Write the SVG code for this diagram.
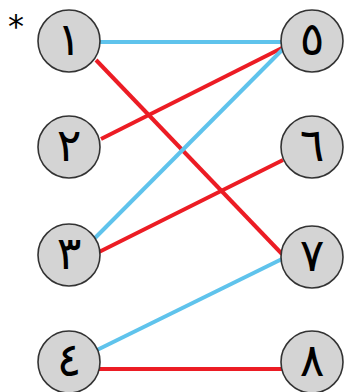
<svg xmlns="http://www.w3.org/2000/svg" width="344" height="392" viewBox="0 0 344 392">
<style>
.node circle{fill:#d4d4d4;stroke:#333;stroke-width:1.6}
.node text{font-family:"DejaVu Sans",sans-serif;font-size:46px;fill:#000;text-anchor:middle;dominant-baseline:central}
.blue{stroke:#5fc3ec;stroke-width:4;fill:none}
.red{stroke:#ec1c24;stroke-width:4;fill:none}
.star{font-family:"DejaVu Sans",sans-serif;font-size:32px;fill:#000}
</style>
<rect width="344" height="392" fill="#fff"/>
<g id="connectors">
<line class="blue" x1="99" y1="42" x2="282" y2="42"/>
<line class="red" x1="96" y1="60" x2="282" y2="254"/>
<line class="red" x1="101" y1="139" x2="282" y2="48"/>
<line class="blue" x1="95" y1="238" x2="283" y2="49"/>
<line class="red" x1="99" y1="252" x2="283" y2="160"/>
<line class="blue" x1="97" y1="350" x2="282" y2="259"/>
<line class="red" x1="99" y1="369" x2="282" y2="369"/>
</g>
<text class="star" x="8" y="37">*</text>
<g id="n1" class="node"><circle cx="69" cy="41" r="31"/><text x="69" y="39">١</text></g>
<g id="n2" class="node"><circle cx="69" cy="147" r="31"/><text x="69" y="145">٢</text></g>
<g id="n3" class="node"><circle cx="69" cy="255" r="31"/><text x="69" y="253">٣</text></g>
<g id="n4" class="node"><circle cx="69" cy="362" r="31"/><text x="69" y="360">٤</text></g>
<g id="n5" class="node"><circle cx="312" cy="41" r="31"/><text x="312" y="39">٥</text></g>
<g id="n6" class="node"><circle cx="312" cy="147" r="31"/><text x="312" y="145">٦</text></g>
<g id="n7" class="node"><circle cx="312" cy="257" r="31"/><text x="312" y="255">٧</text></g>
<g id="n8" class="node"><circle cx="312" cy="362" r="31"/><text x="312" y="360">٨</text></g>
</svg>
